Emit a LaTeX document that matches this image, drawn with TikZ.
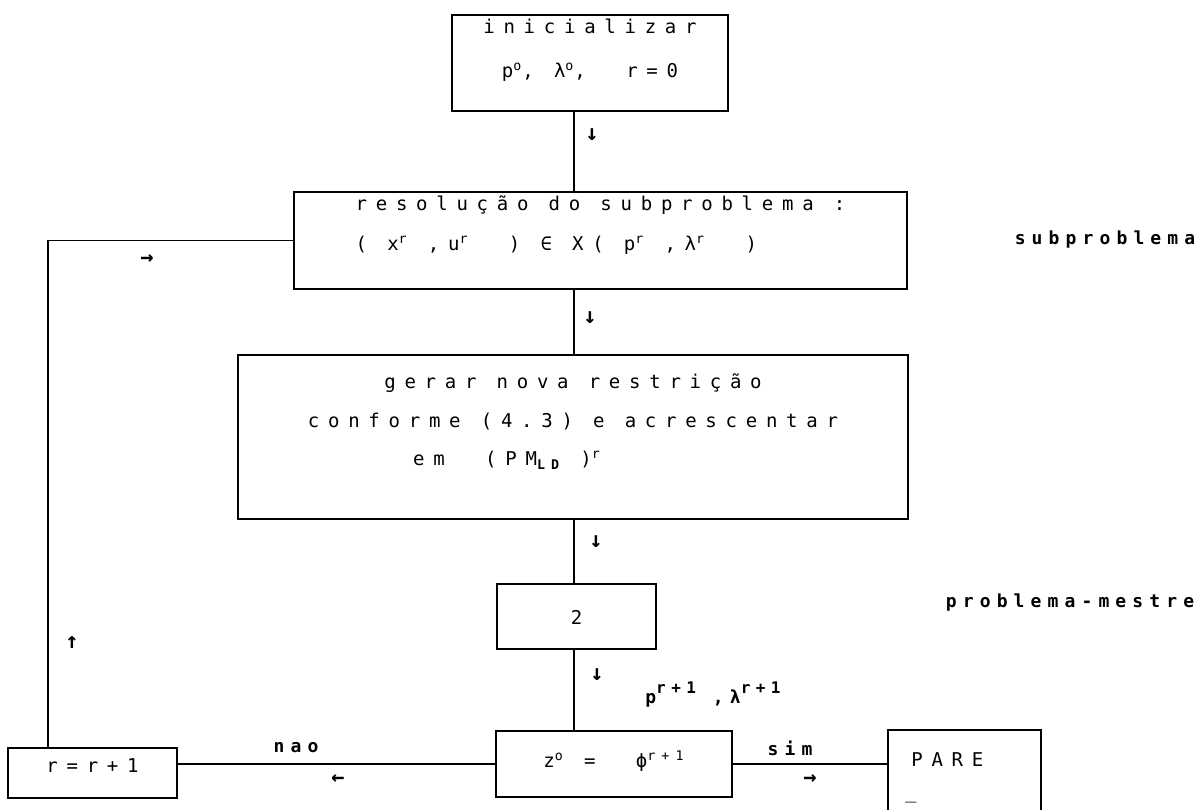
\documentclass[tikz,border=0pt]{standalone}
\usepackage{fontspec}
\setmonofont{DejaVu Sans Mono}[LetterSpace=46]
\newfontfamily\lblfont{DejaVu Sans Mono}[LetterSpace=34]
\newcommand{\tsup}[1]{\textsuperscript{#1}}
\newcommand{\hsup}[1]{\raisebox{5pt}{\fontsize{8}{9}\selectfont #1}}
\tikzset{
  box/.style  = {rectangle, draw, line width=0.9pt, inner sep=0pt,
                 anchor=north, font=\ttfamily\fontsize{9.5}{20}\selectfont},
  lbl/.style  = {font=\lblfont\bfseries\fontsize{9}{11}\selectfont, inner sep=0pt},
  tick/.style = {font=\lblfont\bfseries\fontsize{11}{12}\selectfont, inner sep=0pt},
  conn/.style = {line width=0.9pt},
}

\begin{document}
\begin{tikzpicture}[x=0.5pt, y=-0.5pt]
  \useasboundingbox (0,0) rectangle (1204,809);

  % main column
  \node[box, minimum width=138pt, align=center, text height=31.5pt, text depth=16.5pt,
        font=\ttfamily\fontsize{9.5}{22}\selectfont] (init) at (590,14)
        {inicializar\\p\tsup{o}, λ\tsup{o},~~r=0};
  \node[box, minimum width=306.5pt, align=left, text height=29.5pt, text depth=19pt]
        (res) at (600.5,191)
        {resolução do subproblema :\\( x\tsup{r} ,u\tsup{r} ~) ∈ X( p\tsup{r} ,λ\tsup{r} ~)};
  \node[box, minimum width=335pt, align=center, text height=55.5pt, text depth=26.5pt,
        font=\ttfamily\fontsize{9.5}{19.3}\selectfont] (gen) at (573,354)
        {gerar nova restrição\\conforme (4.3) e acrescentar\\
         em~~(PM\textsubscript{\bfseries LD}~)\tsup{r}\hspace*{66pt}};
  \node[box, minimum width=79.5pt, text height=20.5pt, text depth=12pt] (two) at (576.5,583) {2};
  \node[box, minimum width=118pt, text height=18.5pt, text depth=14.5pt] (zed) at (614,730)
        {z\tsup{o} =~~ϕ\tsup{r+1}};
  \node[box, minimum width=84.5pt, text height=12.5pt, text depth=12.5pt] (inc) at (92.5,747) {r=r+1};
  \node[box, draw=none, text width=59.5pt, inner xsep=8pt, align=left,
        text height=18pt, text depth=21.5pt,
        font=\ttfamily\fontsize{9.5}{16}\selectfont] (stop) at (964.5,730) {~PARE\\\_};
  \draw[conn] (stop.south west) -- (stop.north west) -- (stop.north east) -- (stop.south east);

  \coordinate (spine) at (574,0);
  \coordinate (loopx) at (48,0);

  \draw[conn] (init.south -| spine) -- (res.north -| spine);
  \draw[conn] (res.south -| spine) -- (gen.north -| spine);
  \draw[conn] (gen.south -| spine) -- (two.north -| spine);
  \draw[conn] (two.south -| spine) -- (zed.north -| spine);
  \draw[conn] (zed.west) -- (zed.west -| inc.east);
  \draw[conn] (zed.east) -- (zed.east -| stop.west);
  \draw[conn] (inc.north -| loopx) |- (res.west);

  % typed arrows
  \node[tick] (d1) at (592,135) {↓};
  \node[tick] (d2) at (590,318) {↓};
  \node[tick] (d3) at (596,542) {↓};
  \node[tick] (d4) at (597,675) {↓};
  \node[tick] (r1) at (147,260) {→};
  \node[tick] (u1) at (72,643)  {↑};
  \node[tick] (l1) at (338,780) {←};
  \node[tick] (r2) at (810,780) {→};

  % labels
  \node[lbl] (no)  at (296,748) {nao};
  \node[lbl] (yes) at (790,748) {sim};
  \node[lbl, anchor=west] (pl) at (645,695) {p\hsup{r+1}~,λ\hsup{r+1}};
  \node[lbl] (sub) at (1105,240) {subproblema};
  \node[lbl] (mst) at (1070,603) {problema-mestre};
\end{tikzpicture}
\end{document}
